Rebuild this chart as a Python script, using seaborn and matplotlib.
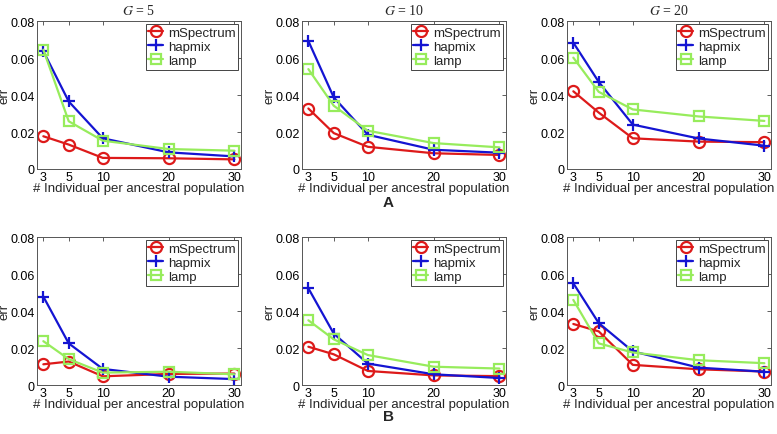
import numpy as np
import pandas as pd
import matplotlib
matplotlib.use('Agg')
import matplotlib.pyplot as plt
from matplotlib.scale import FuncScale
from matplotlib.ticker import FuncFormatter
import seaborn as sns

n_individuals = [3, 5, 10, 20, 30]
g_values = [5, 10, 20]
methods = ['mSpectrum', 'hapmix', 'lamp']

# panel A, one row per G (5, 10, 20)
mspectrum_a = [[0.0177, 0.0132, 0.0060, 0.0058, 0.0052],
               [0.0327, 0.0194, 0.0120, 0.0085, 0.0076],
               [0.0420, 0.0305, 0.0166, 0.0148, 0.0145]]
hapmix_a = [[0.0637, 0.0365, 0.0166, 0.0090, 0.0068],
            [0.0692, 0.0387, 0.0185, 0.0104, 0.0088],
            [0.0683, 0.0471, 0.0240, 0.0165, 0.0126]]
lamp_a = [[0.0645, 0.0258, 0.0153, 0.0108, 0.0099],
          [0.0540, 0.0342, 0.0207, 0.0140, 0.0117],
          [0.0602, 0.0417, 0.0322, 0.0284, 0.0260]]

# panel B
mspectrum_b = [[0.0112, 0.0127, 0.0047, 0.0060, 0.0062],
               [0.0207, 0.0166, 0.0076, 0.0052, 0.0048],
               [0.0330, 0.0290, 0.0109, 0.0085, 0.0073]]
hapmix_b = [[0.0478, 0.0225, 0.0087, 0.0045, 0.0032],
            [0.0523, 0.0278, 0.0116, 0.0058, 0.0038],
            [0.0550, 0.0335, 0.0182, 0.0094, 0.0072]]
lamp_b = [[0.0237, 0.0140, 0.0067, 0.0072, 0.0058],
          [0.0350, 0.0247, 0.0162, 0.0099, 0.0089],
          [0.0460, 0.0225, 0.0176, 0.0134, 0.0118]]

colors = {'mSpectrum': '#dd1a1a', 'hapmix': '#1414d2', 'lamp': '#97ec5c'}
markers = {'mSpectrum': 'o', 'hapmix': '+', 'lamp': 's'}
msizes = {'mSpectrum': 8, 'hapmix': 9, 'lamp': 6.5}

# the x axis in the original is stretched unevenly: place ticks where they sit
knot_x = [3, 5, 10, 20, 30]
knot_p = [0.96, 4.82, 10, 20, 30]
ext_x = np.array([-1000] + knot_x + [1000], float)
ext_p = np.array([knot_p[0] - 1003 * (knot_p[1] - knot_p[0]) / 2] + knot_p + [1000], float)


def fwd(x):
    return np.interp(np.asarray(x, float), ext_x, ext_p)


def inv(p):
    return np.interp(np.asarray(p, float), ext_p, ext_x)


sns.set_style('white')
plt.rcParams['font.family'] = ['Liberation Sans', 'DejaVu Sans']
plt.rcParams['mathtext.fontset'] = 'stix'

fig = plt.figure(figsize=(7.77, 4.35), dpi=100)

lefts = [0.0476, 0.3887, 0.7297]
bottoms = [0.6092, 0.1126]
w, h = 0.2625, 0.3402

panels = [(mspectrum_a, hapmix_a, lamp_a), (mspectrum_b, hapmix_b, lamp_b)]

for r, (ms, hm, lp) in enumerate(panels):
    for c, g in enumerate(g_values):
        ax = fig.add_axes([lefts[c], bottoms[r], w, h])
        ax.set_xscale(FuncScale(ax.xaxis, (fwd, inv)))
        df = pd.DataFrame({'n': n_individuals, 'mSpectrum': ms[c],
                           'hapmix': hm[c], 'lamp': lp[c]})
        for m in methods:
            sns.lineplot(data=df, x='n', y=m, ax=ax, color=colors[m],
                         marker=markers[m], markersize=msizes[m],
                         mfc='none', mec=colors[m], mew=1.6,
                         linewidth=1.6, label=m)
        ax.set_xlim(2.5, 31)
        ax.set_ylim(0, 0.08)
        ax.set_xticks(n_individuals)
        ax.set_xticklabels([str(v) for v in n_individuals])
        ax.set_yticks([0, 0.02, 0.04, 0.06, 0.08])
        ax.yaxis.set_major_formatter(FuncFormatter(lambda v, _: '0' if v == 0 else f'{v:.2f}'))
        ax.tick_params(direction='in', length=3, width=0.6, labelsize=9, pad=1.5,
                       top=True, right=True, colors='#444444', labelcolor='black')
        ax.minorticks_off()
        for s in ax.spines.values():
            s.set_color('#555555')
            s.set_linewidth(0.7)
        ax.set_xlabel('# Individual per ancestral population', fontsize=9.5, labelpad=-1)
        ax.set_ylabel('err', fontsize=9.5, labelpad=0)
        if r == 0:
            ax.set_title(rf'$G$ = {g}', fontsize=10, pad=5, family='Liberation Serif')
        leg = ax.legend(loc='upper right', fontsize=9.5, frameon=True, fancybox=False,
                        framealpha=1, edgecolor='#444444', borderaxespad=0.2,
                        handlelength=1.1, handletextpad=0.4, borderpad=0.2,
                        labelspacing=0.15)
        leg.get_frame().set_linewidth(0.7)

fig.text(0.4994, 1 - 203 / 435, 'A', ha='center', va='center', fontsize=11, fontweight='bold')
fig.text(0.4994, 1 - 417 / 435, 'B', ha='center', va='center', fontsize=11, fontweight='bold')

fig.savefig('out.png', dpi=100)
